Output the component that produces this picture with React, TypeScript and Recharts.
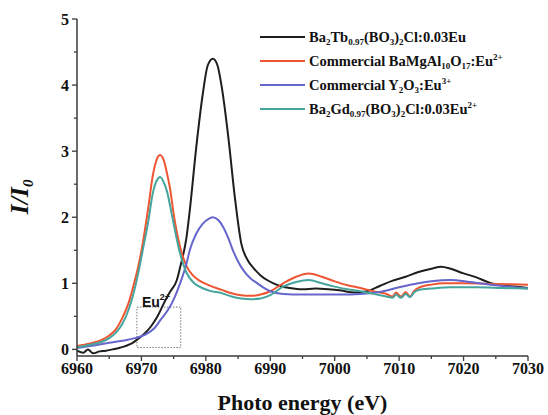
import React from "react";
import { LineChart, Line, XAxis, YAxis, Legend, ReferenceArea, Label } from "recharts";

const FONT = "'Liberation Serif', 'Times New Roman', serif";

const xTicks = [6960, 6965, 6970, 6975, 6980, 6985, 6990, 6995, 7000, 7005, 7010, 7015, 7020, 7025, 7030];
const yTicks = [0, 0.5, 1, 1.5, 2, 2.5, 3, 3.5, 4, 4.5, 5];

// Ba2Tb0.97(BO3)2Cl:0.03Eu
const tbX = [6960, 6961, 6961.7, 6962.5, 6963.5, 6964.5, 6965.5, 6966.5, 6967.5, 6968.5, 6969.5, 6970.5, 6971.5, 6972.5, 6973.5, 6974.5, 6975.5, 6976, 6977, 6977.5, 6978.5, 6979.5, 6980.3, 6981.1, 6981.8, 6982.5, 6983.5, 6984.5, 6985.5, 6986.5, 6987.5, 6988.5, 6989.5, 6990.5, 6991.5, 6993, 6995, 6997, 6999, 7001, 7003, 7005, 7007, 7009, 7011, 7013, 7015, 7016.5, 7018, 7020, 7022, 7024, 7026, 7028, 7030];
const tbY = [-0.02, -0.05, 0.0, -0.06, -0.03, -0.02, 0.0, 0.02, 0.05, 0.09, 0.16, 0.24, 0.35, 0.5, 0.7, 0.88, 1.05, 1.24, 1.7, 2.1, 3.05, 3.85, 4.3, 4.4, 4.3, 3.95, 3.2, 2.3, 1.6, 1.35, 1.22, 1.12, 1.05, 1.0, 0.96, 0.93, 0.91, 0.92, 0.91, 0.89, 0.86, 0.88, 0.96, 1.04, 1.1, 1.17, 1.22, 1.25, 1.22, 1.15, 1.09, 1.01, 0.97, 0.95, 0.93];

// Commercial BaMgAl10O17:Eu2+
const bamX = [6960, 6962, 6964, 6965, 6966, 6967, 6968, 6968.7, 6969.5, 6970.2, 6971, 6971.8, 6972.4, 6972.9, 6973.5, 6974, 6974.5, 6975, 6976, 6977, 6978, 6979, 6980.5, 6982.5, 6984, 6985.5, 6987, 6988.5, 6990, 6992, 6994, 6996, 6998, 7000, 7002, 7004, 7006, 7008, 7009, 7009.5, 7010.3, 7011, 7011.7, 7012.3, 7013, 7015, 7017, 7020, 7025, 7030];
const bamY = [0.05, 0.09, 0.15, 0.21, 0.3, 0.47, 0.7, 0.94, 1.25, 1.6, 2.1, 2.65, 2.88, 2.94, 2.85, 2.65, 2.4, 2.05, 1.55, 1.26, 1.12, 1.04, 0.97, 0.9, 0.85, 0.82, 0.81, 0.83, 0.88, 1.0, 1.1, 1.15, 1.1, 1.03, 0.97, 0.93, 0.88, 0.84, 0.8, 0.86, 0.8, 0.87, 0.8, 0.88, 0.93, 0.98, 1.0, 1.0, 0.99, 0.98];

// Commercial Y2O3:Eu3+
const yoX = [6960, 6962, 6965, 6967, 6969, 6970.5, 6972, 6973, 6974.4, 6975.2, 6976, 6977, 6977.5, 6978.5, 6979.5, 6980.5, 6981.1, 6982, 6982.7, 6983.5, 6984.2, 6985, 6985.8, 6987, 6988, 6989, 6990, 6992, 6995, 6998, 7001, 7004, 7007, 7010, 7013, 7015, 7018, 7021, 7025, 7030];
const yoY = [0.02, 0.05, 0.1, 0.13, 0.17, 0.22, 0.32, 0.45, 0.64, 0.8, 1.0, 1.3, 1.5, 1.75, 1.9, 1.98, 2.0, 1.95, 1.85, 1.68, 1.5, 1.33, 1.2, 1.07, 1.0, 0.93, 0.88, 0.84, 0.83, 0.83, 0.83, 0.84, 0.87, 0.94, 1.0, 1.03, 1.05, 1.02, 0.97, 0.92];

// Ba2Gd0.97(BO3)2Cl:0.03Eu2+
const gdX = [6960, 6962, 6964, 6965, 6966, 6967, 6968, 6968.7, 6969.5, 6970.2, 6971, 6971.8, 6972.4, 6972.9, 6973.5, 6974, 6974.5, 6975, 6976, 6977, 6978, 6979, 6980.5, 6982.5, 6984, 6985.5, 6987, 6988.5, 6990, 6992, 6994, 6996, 6998, 7000, 7002, 7004, 7006, 7008, 7009, 7009.5, 7010.3, 7011, 7011.7, 7012.3, 7013, 7015, 7018, 7022, 7026, 7030];
const gdY = [0.03, 0.07, 0.12, 0.17, 0.25, 0.38, 0.6, 0.82, 1.15, 1.5, 1.9, 2.38, 2.56, 2.61, 2.52, 2.38, 2.15, 1.9, 1.45, 1.16, 1.02, 0.95, 0.89, 0.85, 0.8, 0.77, 0.76, 0.77, 0.82, 0.95, 1.02, 1.05, 1.0, 0.95, 0.91, 0.88, 0.84, 0.8, 0.78, 0.83, 0.78, 0.84, 0.79, 0.86, 0.9, 0.92, 0.94, 0.94, 0.93, 0.92];

const euBoxX = [6969.3, 6976.1];
const euBoxY = [0.03, 0.64];

type Seg = [string, string];
const series: { id: string; color: string; xs: number[]; ys: number[]; label: Seg[] }[] = [
  {
    id: "tb", color: "#1e1e1e", xs: tbX, ys: tbY,
    label: [["Ba", ""], ["2", "sub"], ["Tb", ""], ["0.97", "sub"], ["(BO", ""], ["3", "sub"], [")", ""], ["2", "sub"], ["Cl:0.03Eu", ""]],
  },
  {
    id: "bam", color: "#ee5533", xs: bamX, ys: bamY,
    label: [["Commercial BaMgAl", ""], ["10", "sub"], ["O", ""], ["17", "sub"], [":Eu", ""], ["2+", "sup"]],
  },
  {
    id: "yo", color: "#6666cc", xs: yoX, ys: yoY,
    label: [["Commercial Y", ""], ["2", "sub"], ["O", ""], ["3", "sub"], [":Eu", ""], ["3+", "sup"]],
  },
  {
    id: "gd", color: "#45a59d", xs: gdX, ys: gdY,
    label: [["Ba", ""], ["2", "sub"], ["Gd", ""], ["0.97", "sub"], ["(BO", ""], ["3", "sub"], [")", ""], ["2", "sub"], ["Cl:0.03Eu", ""], ["2+", "sup"]],
  },
];

const toData = (xs: number[], ys: number[]) => xs.map((x, i) => ({ x, y: ys[i] }));

const AXIS = "#3a3a3a";

const XTick = (props: any) => {
  const { x, y, payload } = props;
  const major = payload.value % 10 === 0;
  return (
    <g>
      <line x1={x} x2={x} y1={y} y2={y + (major ? 5 : 3)} stroke={AXIS} strokeWidth={1.3} />
      {major && (
        <text x={x} y={y + 18} textAnchor="middle" fontFamily={FONT} fontWeight="bold" fontSize={16} fill="#111">
          {payload.value}
        </text>
      )}
    </g>
  );
};

const YTick = (props: any) => {
  const { x, y, payload } = props;
  const major = Number.isInteger(payload.value);
  return (
    <g>
      <line x1={x} x2={x - (major ? 5 : 3)} y1={y} y2={y} stroke={AXIS} strokeWidth={1.3} />
      {major && (
        <text x={x - 8} y={y + 5.5} textAnchor="end" fontFamily={FONT} fontWeight="bold" fontSize={16} fill="#111">
          {payload.value}
        </text>
      )}
    </g>
  );
};

const renderSegs = (segs: Seg[]) =>
  segs.map((s, i) => {
    if (s[1] === "sub")
      return (
        <span key={i} style={{ fontSize: 9, verticalAlign: -3, lineHeight: 0 }}>{s[0]}</span>
      );
    if (s[1] === "sup")
      return (
        <span key={i} style={{ fontSize: 9, verticalAlign: 6, lineHeight: 0 }}>{s[0]}</span>
      );
    return <span key={i}>{s[0]}</span>;
  });

const LegendContent = (props: any) => {
  const payload = (props.payload || []).slice();
  const order = (v: any) => series.findIndex((q) => q.id === v);
  payload.sort((a: any, b: any) => order(a.value) - order(b.value));
  return (
    <div style={{ paddingTop: 4 }}>
      {payload.map((p: any) => {
        const s = series.find((q) => q.id === p.value);
        if (!s) return null;
        return (
          <div key={s.id} style={{ display: "flex", alignItems: "center", height: 24 }}>
            <div style={{ width: 45, height: 2, background: s.color, marginLeft: 4, marginRight: 4 }} />
            <div style={{ fontFamily: FONT, fontWeight: "bold", fontSize: 14.5, color: "#111", whiteSpace: "nowrap" }}>
              {renderSegs(s.label)}
            </div>
          </div>
        );
      })}
    </div>
  );
};

const EuLabel = (props: any) => {
  const vb = props.viewBox || {};
  return (
    <text x={vb.x + 5} y={vb.y} fontFamily="'Liberation Sans', Arial, sans-serif" fontWeight="bold" fontSize={14} fill="#111">
      Eu
      <tspan fontSize={9} dy={-7}>2+</tspan>
    </text>
  );
};

const XLabel = (props: any) => {
  const vb = props.viewBox || {};
  return (
    <text x={vb.x + vb.width / 2} y={vb.y + 54} textAnchor="middle" fontFamily={FONT} fontWeight="bold" fontSize={22} fill="#111">
      Photo energy (eV)
    </text>
  );
};

const YLabel = () => {
  const cx = 28;
  const cy = 197;
  return (
    <text x={cx} y={cy} transform={`rotate(-90, ${cx}, ${cy})`} textAnchor="middle" fontFamily={FONT} fontWeight="bold" fontStyle="italic" fontSize={26} fill="#111">
      I/I
      <tspan fontSize={15} dy={5}>0</tspan>
    </text>
  );
};

export default function App() {
  return (
    <div style={{ position: "absolute", left: 0, top: 0, width: 548, height: 415, background: "#fff" }}>
      <LineChart width={548} height={415} margin={{ top: 19, right: 20, bottom: 0, left: 0 }}>
        <XAxis
          xAxisId="x"
          dataKey="x"
          type="number"
          domain={[6960, 7030]}
          ticks={xTicks}
          interval={0}
          allowDataOverflow
          height={59}
          tickSize={0}
          tickMargin={0}
          tick={<XTick />}
          axisLine={{ stroke: AXIS, strokeWidth: 1.5 }}
        >
          <Label content={<XLabel />} />
        </XAxis>
        <XAxis
          xAxisId="t"
          orientation="top"
          type="number"
          domain={[6960, 7030]}
          height={0}
          tick={false}
          tickLine={false}
          axisLine={{ stroke: AXIS, strokeWidth: 1.5 }}
        />
        <YAxis
          yAxisId="y"
          type="number"
          domain={[-0.1, 5]}
          ticks={yTicks}
          interval={0}
          allowDataOverflow
          width={77}
          tickSize={0}
          tickMargin={0}
          tick={<YTick />}
          axisLine={{ stroke: AXIS, strokeWidth: 1.5 }}
        >
          <Label content={<YLabel />} />
        </YAxis>
        <YAxis
          yAxisId="r"
          orientation="right"
          type="number"
          domain={[-0.1, 5]}
          width={0}
          tick={false}
          tickLine={false}
          axisLine={{ stroke: AXIS, strokeWidth: 1.5 }}
        />
        <ReferenceArea
          xAxisId="x"
          yAxisId="y"
          x1={euBoxX[0]}
          x2={euBoxX[1]}
          y1={euBoxY[0]}
          y2={euBoxY[1]}
          fill="none"
          fillOpacity={0}
          stroke="#777"
          strokeWidth={1}
          strokeDasharray="1.5 1.5"
          label={<EuLabel />}
          ifOverflow="visible"
        />
        {series.map((s) => (
          <Line
            key={s.id}
            xAxisId="x"
            yAxisId="y"
            data={toData(s.xs, s.ys)}
            dataKey="y"
            name={s.id}
            type="monotone"
            stroke={s.color}
            strokeWidth={2}
            dot={false}
            activeDot={false}
            isAnimationActive={false}
            legendType="line"
          />
        ))}
        <Legend
          layout="horizontal"
          verticalAlign="middle"
          align="center"
          content={<LegendContent />}
          wrapperStyle={{
            position: "absolute",
            left: 256,
            top: 21,
            width: 267,
            height: 103,
            background: "transparent",
          }}
        />
      </LineChart>
    </div>
  );
}
